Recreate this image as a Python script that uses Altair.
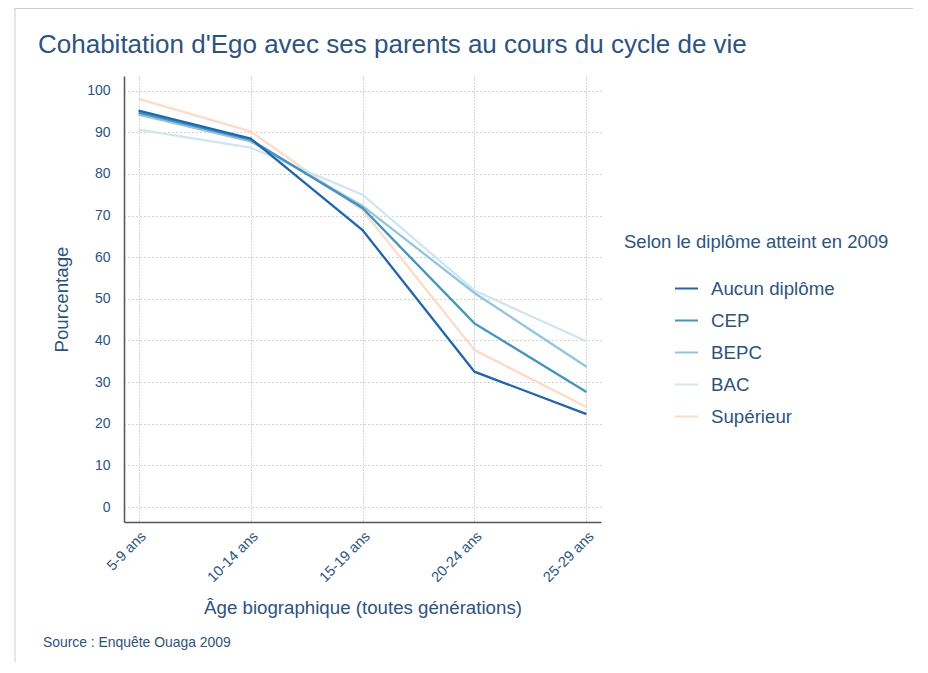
import altair as alt
import pandas as pd

ages = ["5-9 ans", "10-14 ans", "15-19 ans", "20-24 ans", "25-29 ans"]
series = ["Aucun diplôme", "CEP", "BEPC", "BAC", "Supérieur"]
colors = ["#2166ac", "#4393c3", "#92c5de", "#d1e5f0", "#fddbc7"]

aucun = [95.2, 88.5, 66.5, 32.5, 22.3]
cep = [94.7, 88.2, 71.8, 44.1, 27.6]
bepc = [94.2, 87.8, 72.3, 51.4, 33.7]
bac = [90.6, 86.3, 75.0, 52.0, 39.8]
superieur = [98.0, 90.2, 71.3, 37.7, 24.0]

values_by_series = {
    "Aucun diplôme": aucun,
    "CEP": cep,
    "BEPC": bepc,
    "BAC": bac,
    "Supérieur": superieur,
}

rows = []
for order, s in enumerate(reversed(series)):
    for a, v in zip(ages, values_by_series[s]):
        rows.append({"age": a, "diplome": s, "pct": v, "ord": order})
df = pd.DataFrame(rows)

TXT = "#2d5380"
FONT = "Liberation Sans"

lines = alt.Chart(df).mark_line(strokeWidth=2.3).encode(
    x=alt.X(
        "age:N",
        sort=ages,
        scale=alt.Scale(type="point", padding=0.13),
        axis=alt.Axis(
            title="Âge biographique (toutes générations)",
            labelAngle=-45,
            labelFontSize=14.5,
            labelColor=TXT,
            labelFont=FONT,
            labelPadding=7,
            titleFontSize=18.7,
            titleFontWeight="normal",
            titleColor=TXT,
            titleFont=FONT,
            titlePadding=14,
            ticks=False,
            grid=True,
            gridDash=[1, 2],
            gridColor="#aaaaaa",
            domainColor="#555555",
            domainWidth=1.5,
        ),
    ),
    y=alt.Y(
        "pct:Q",
        scale=alt.Scale(domain=[-3.6, 103.5], nice=False, zero=False),
        axis=alt.Axis(
            title="Pourcentage",
            values=list(range(0, 101, 10)),
            labelFontSize=14,
            labelColor=TXT,
            labelFont=FONT,
            labelPadding=14,
            titleFontSize=18.7,
            titleFontWeight="normal",
            titleColor=TXT,
            titleFont=FONT,
            titlePadding=15,
            ticks=False,
            grid=True,
            gridDash=[1, 3],
            gridColor="#aaaaaa",
            domainColor="#555555",
            domainWidth=1.5,
        ),
    ),
    color=alt.Color(
        "diplome:N",
        scale=alt.Scale(domain=series, range=colors),
        legend=alt.Legend(
            title=None,
            orient="none",
            legendX=550,
            legendY=200,
            symbolType="stroke",
            symbolSize=529,
            symbolStrokeWidth=2,
            labelFontSize=18.7,
            labelColor=TXT,
            labelFont=FONT,
            labelOffset=12,
            rowPadding=9,
        ),
    ),
    order=alt.Order("ord:Q"),
)

main_title = alt.Chart(pd.DataFrame({"t": ["Cohabitation d'Ego avec ses parents au cours du cycle de vie"]})).mark_text(
    align="left", baseline="alphabetic", fontSize=26, color=TXT, font=FONT
).encode(x=alt.value(-86), y=alt.value(-23), text="t:N")

legend_title = alt.Chart(pd.DataFrame({"t": ["Selon le diplôme atteint en 2009"]})).mark_text(
    align="left", baseline="alphabetic", fontSize=18.5, color=TXT, font=FONT
).encode(x=alt.value(500), y=alt.value(172), text="t:N")

source = alt.Chart(pd.DataFrame({"t": ["Source : Enquête Ouaga 2009"]})).mark_text(
    align="left", baseline="alphabetic", fontSize=13.9, color=TXT, font=FONT
).encode(x=alt.value(-81), y=alt.value(571), text="t:N")

border_left = alt.Chart(pd.DataFrame({"a": [0]})).mark_rule(color="#cccccc", strokeWidth=1).encode(
    x=alt.value(-109), y=alt.value(-68), y2=alt.value(600)
)
border_top = alt.Chart(pd.DataFrame({"a": [0]})).mark_rule(color="#cccccc", strokeWidth=1).encode(
    x=alt.value(-109), x2=alt.value(790), y=alt.value(-67.5)
)

chart = alt.layer(border_left, border_top, lines, main_title, legend_title, source).properties(
    width=477,
    height=446,
    autosize=alt.AutoSizeParams(type="none"),
    padding={"left": 116, "top": 68, "right": 312, "bottom": 140},
).configure_view(stroke=None)

chart.save("out.html", embed_options={"renderer": "svg", "actions": False})
